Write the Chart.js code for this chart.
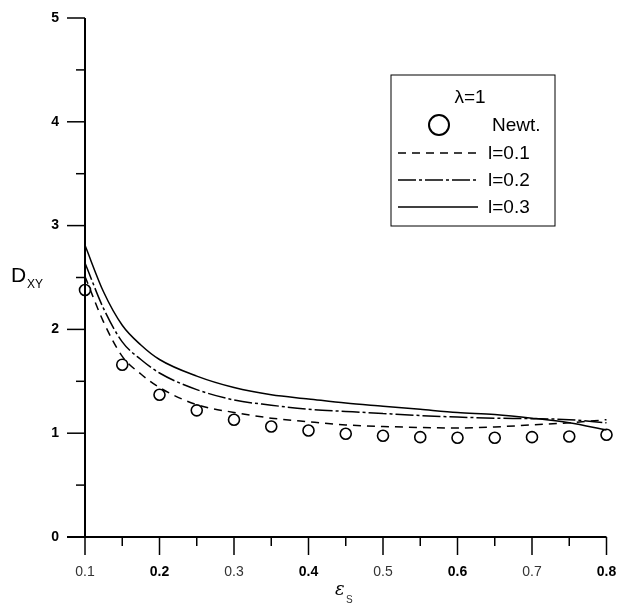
<!DOCTYPE html>
<html>
<head>
<meta charset="utf-8">
<script src="https://cdn.jsdelivr.net/npm/chart.js@4.4.0/dist/chart.umd.min.js"></script>
<style>
  html, body { margin: 0; padding: 0; background: #fff; }
  #wrap { width: 626px; height: 603px; }
</style>
</head>
<body>
<div id="wrap"><canvas id="dxyGraph" width="626" height="603"></canvas></div>
<script>
// Newtonian points
const newtX = [0.1, 0.15, 0.2, 0.25, 0.3, 0.35, 0.4, 0.45, 0.5, 0.55, 0.6, 0.65, 0.7, 0.75, 0.8];
const newtY = [2.38, 1.66, 1.37, 1.22, 1.13, 1.065, 1.026, 0.995, 0.975, 0.962, 0.956, 0.956, 0.962, 0.968, 0.985];

// curves for l = 0.1, 0.2, 0.3
const curveX = [0.1, 0.125, 0.15, 0.175, 0.2, 0.25, 0.3, 0.35, 0.4, 0.45, 0.5, 0.55, 0.6, 0.65, 0.7, 0.75, 0.8];
const l01 = [2.51, 2.07, 1.74, 1.57, 1.44, 1.275, 1.20, 1.145, 1.11, 1.08, 1.065, 1.055, 1.05, 1.06, 1.08, 1.10, 1.13];
const l02 = [2.64, 2.20, 1.88, 1.71, 1.58, 1.42, 1.32, 1.27, 1.23, 1.21, 1.19, 1.17, 1.155, 1.145, 1.14, 1.13, 1.10];
const l03 = [2.81, 2.36, 2.04, 1.85, 1.71, 1.55, 1.44, 1.37, 1.33, 1.29, 1.26, 1.23, 1.20, 1.18, 1.145, 1.10, 1.03];

const xTicks = [0.1, 0.2, 0.3, 0.4, 0.5, 0.6, 0.7, 0.8];
const yTicks = [0, 1, 2, 3, 4, 5];

const FONT = '"Liberation Sans", Arial, sans-serif';

function pts(xs, ys) {
    return xs.map(function(x, i) { return { x: x, y: ys[i] }; });
}

const lineDs = function(label, data, dash) {
    return {
        label: label,
        data: pts(curveX, data),
        showLine: true,
        borderColor: '#000',
        borderWidth: 1.5,
        borderDash: dash,
        pointRadius: 0,
        cubicInterpolationMode: 'monotone',
        clip: false
    };
};

const axesPlugin = {
    id: 'axesPlugin',
    afterDraw: function(chart) {
        const ctx = chart.ctx;
        const xs = chart.scales.x;
        const ys = chart.scales.y;
        const x0 = xs.getPixelForValue(0.1);
        const y0 = ys.getPixelForValue(0);
        ctx.save();
        ctx.strokeStyle = '#000';
        ctx.lineWidth = 2;
        ctx.beginPath();
        ctx.moveTo(x0, ys.getPixelForValue(5));
        ctx.lineTo(x0, y0);
        ctx.moveTo(x0 - 18, y0);
        ctx.lineTo(xs.getPixelForValue(0.8), y0);
        ctx.stroke();

        // y ticks
        ctx.lineWidth = 1.5;
        for (let k = 0; k <= 10; k++) {
            const v = k / 2;
            const py = ys.getPixelForValue(v);
            ctx.beginPath();
            ctx.moveTo(x0 - (k % 2 === 0 ? 18 : 9), py);
            ctx.lineTo(x0, py);
            ctx.stroke();
        }
        // x ticks
        for (let k = 0; k <= 14; k++) {
            const v = 0.1 + k * 0.05;
            const px = xs.getPixelForValue(v);
            ctx.beginPath();
            ctx.moveTo(px, y0);
            ctx.lineTo(px, y0 + (k % 2 === 0 ? 18 : 9));
            ctx.stroke();
        }

        // axis titles
        ctx.fillStyle = '#000';
        ctx.textBaseline = 'alphabetic';
        ctx.textAlign = 'left';
        ctx.font = '21px ' + FONT;
        ctx.fillText('D', 11, 282);
        ctx.font = '12px ' + FONT;
        ctx.fillText('XY', 27, 288);
        ctx.font = 'italic 18px "DejaVu Serif", serif';
        ctx.fillText('ε', 335, 595);
        ctx.font = '10px ' + FONT;
        ctx.fillStyle = '#333';
        ctx.fillText('S', 346, 603);

        // legend
        const ds = chart.data.datasets;
        ctx.strokeStyle = '#000';
        ctx.lineWidth = 1;
        ctx.strokeRect(391, 75, 164, 151);
        ctx.fillStyle = '#000';
        ctx.font = '19px ' + FONT;
        ctx.textBaseline = 'middle';
        ctx.textAlign = 'center';
        ctx.fillText('\u03bb=1', 470, 98);
        ctx.textAlign = 'left';
        ctx.lineWidth = 2;
        ctx.beginPath();
        ctx.arc(439, 125, 10, 0, Math.PI * 2);
        ctx.stroke();
        ctx.fillText(ds[3].label, 492, 126);
        const rows = [153, 180, 207];
        for (let i = 0; i < 3; i++) {
            ctx.lineWidth = 1.5;
            ctx.setLineDash(ds[i].borderDash);
            ctx.beginPath();
            ctx.moveTo(398, rows[i]);
            ctx.lineTo(478, rows[i]);
            ctx.stroke();
            ctx.setLineDash([]);
            ctx.fillText(ds[i].label, 488, rows[i] + 1);
        }
        ctx.restore();
    }
};

new Chart(document.getElementById('dxyGraph'), {
    type: 'scatter',
    data: {
        datasets: [
            lineDs('l=0.1', l01, [8, 6]),
            lineDs('l=0.2', l02, [18, 3, 3, 3]),
            lineDs('l=0.3', l03, []),
            {
                label: 'Newt.',
                data: pts(newtX, newtY),
                pointStyle: 'circle',
                pointRadius: 5.5,
                pointBorderWidth: 1.6,
                pointBorderColor: '#000',
                pointBackgroundColor: 'rgba(0,0,0,0)',
                showLine: false,
                clip: false
            }
        ]
    },
    options: {
        responsive: false,
        animation: false,
        layout: { padding: { top: 18, right: 19.5, left: 0, bottom: 0 } },
        plugins: {
            legend: { display: false },
            tooltip: { enabled: false }
        },
        scales: {
            x: {
                type: 'linear',
                min: 0.1,
                max: 0.8,
                grid: { display: false, drawTicks: false },
                border: { display: false },
                afterBuildTicks: function(scale) {
                    scale.ticks = xTicks.map(function(v) { return { value: v }; });
                },
                afterFit: function(scale) {
                    scale.height = 66;
                    scale.paddingLeft = 0;
                    scale.paddingRight = 0;
                },
                ticks: {
                    padding: 27,
                    color: function(c) { return c.index % 2 === 1 ? '#000' : '#333'; },
                    font: function(c) {
                        return { family: FONT, size: 14, weight: c.index % 2 === 1 ? 'bold' : 'normal' };
                    },
                    maxRotation: 0,
                    autoSkip: false,
                    callback: function(v) { return Number(v).toFixed(1); }
                }
            },
            y: {
                type: 'linear',
                min: 0,
                max: 5,
                grid: { display: false, drawTicks: false },
                border: { display: false },
                afterBuildTicks: function(scale) {
                    scale.ticks = yTicks.map(function(v) { return { value: v }; });
                },
                afterFit: function(scale) {
                    scale.width = 85;
                    scale.paddingTop = 0;
                    scale.paddingBottom = 0;
                },
                ticks: {
                    padding: 26,
                    color: '#000',
                    font: { family: FONT, size: 14, weight: 'bold' },
                    callback: function(v) { return v; }
                }
            }
        }
    },
    plugins: [axesPlugin]
});
</script>
</body>
</html>
